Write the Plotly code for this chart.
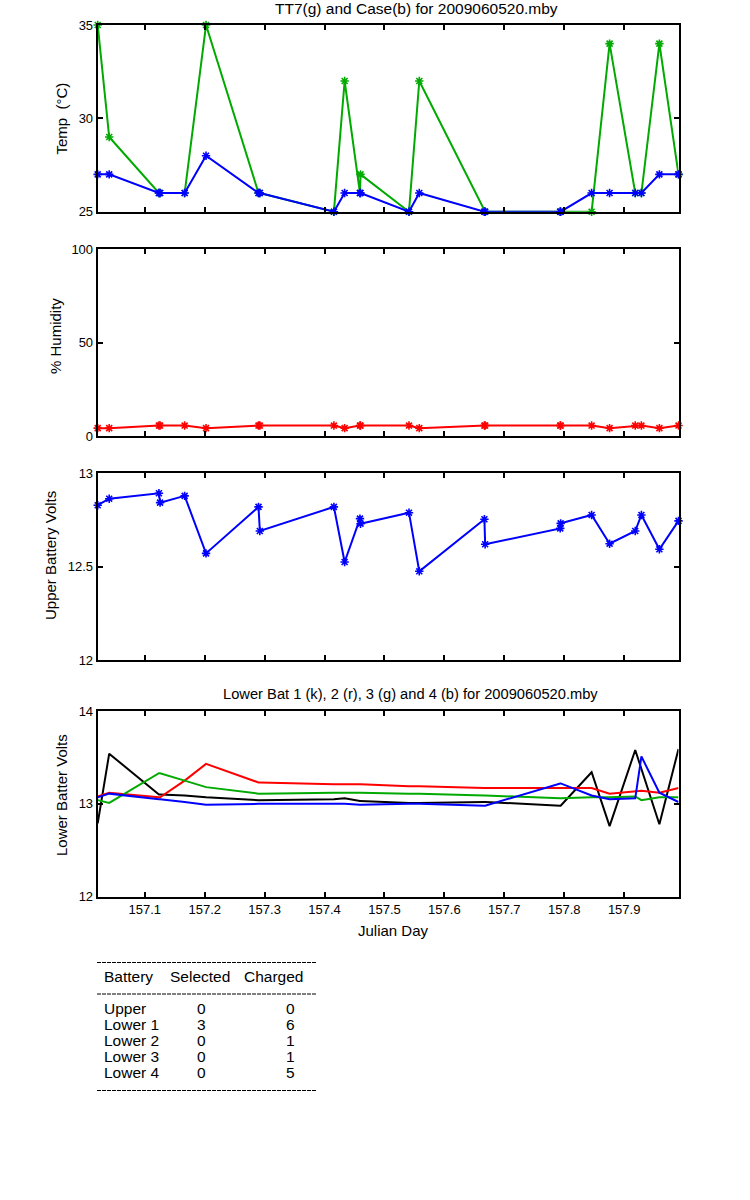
import plotly.graph_objects as go

# ---------------- data ----------------
julian_day = [157.0214, 157.0406, 157.1236, 157.1255, 157.1665, 157.2022, 157.2898, 157.2920,
              157.4156, 157.4335, 157.4591, 157.4600, 157.5409, 157.5581, 157.6668, 157.6680,
              157.7933, 157.7940, 157.8457, 157.8757, 157.9185, 157.9288, 157.9588, 157.9907]

tt7_temp = [35, 29, 26, 26, 26, 35, 26, 26, 25, 32, 26, 27, 25, 32, 25, 25,
            25, 25, 25, 34, 26, 26, 34, 27]
case_temp = [27, 27, 26, 26, 26, 28, 26, 26, 25, 26, 26, 26, 25, 26, 25, 25,
             25, 25, 26, 26, 26, 26, 27, 27]

humidity = [4.2, 4.2, 5.6, 5.6, 5.6, 4.2, 5.6, 5.6, 5.6, 4.2, 5.6, 5.6, 5.6, 4.2, 5.6, 5.6,
            5.6, 5.6, 5.6, 4.2, 5.6, 5.6, 4.2, 5.6]

upper_bat = [12.829, 12.864, 12.893, 12.843, 12.879, 12.571, 12.820, 12.691,
             12.820, 12.525, 12.757, 12.730, 12.789, 12.475, 12.754, 12.620,
             12.705, 12.732, 12.777, 12.623, 12.691, 12.777, 12.593, 12.745]

lower_bat1 = [12.79, 13.54, 13.10, 13.10, 13.09, 13.07, 13.04, 13.04, 13.05, 13.06, 13.03, 13.03,
              13.01, 13.01, 13.02, 13.02, 12.98, 12.98, 13.34, 12.76, 13.58, 13.37, 12.78, 13.59]
lower_bat2 = [13.08, 13.12, 13.07, 13.07, 13.25, 13.43, 13.23, 13.23, 13.21, 13.21, 13.21, 13.21,
              13.19, 13.19, 13.17, 13.17, 13.17, 13.17, 13.17, 13.11, 13.14, 13.14, 13.12, 13.17]
lower_bat3 = [13.04, 13.01, 13.33, 13.33, 13.25, 13.18, 13.11, 13.11, 13.12, 13.12, 13.12, 13.12,
              13.11, 13.11, 13.09, 13.09, 13.06, 13.06, 13.07, 13.07, 13.08, 13.04, 13.07, 13.07]
lower_bat4 = [13.07, 13.11, 13.05, 13.05, 13.02, 12.99, 13.00, 13.00, 13.00, 13.00, 12.99, 12.99,
              13.00, 13.00, 12.98, 12.98, 13.22, 13.22, 13.09, 13.05, 13.06, 13.51, 13.12, 13.02]

x_ticks = [157.1, 157.2, 157.3, 157.4, 157.5, 157.6, 157.7, 157.8, 157.9]
x_range = [157.0214, 157.9907]

table_batteries = ["Upper", "Lower 1", "Lower 2", "Lower 3", "Lower 4"]
table_selected = [0, 3, 0, 0, 0]
table_charged = [0, 6, 1, 1, 5]

title_top = "TT7(g) and Case(b) for 2009060520.mby"
title_lower = "Lower Bat 1 (k), 2 (r), 3 (g) and 4 (b) for 2009060520.mby"

# ---------------- layout helpers ----------------
W, H = 750, 1200
FONT = "Liberation Sans, Arial, sans-serif"
GREEN = "rgb(0,170,0)"
BLUE = "rgb(0,0,255)"
RED = "rgb(255,0,0)"
BLACK = "rgb(0,0,0)"


def px(x):
    return x / W


def py(y):
    return 1 - y / H


x_dom = [px(97.7), px(678.5)]
panels = {
    1: (25.0, 211.7),
    2: (249.3, 436.0),
    3: (473.3, 660.0),
    4: (711.0, 896.7),
}

fig = go.Figure()


def mk(col):
    return dict(symbol="asterisk-open", size=7, color=col, line=dict(width=1.6, color=col))


# panel 1 - temperatures
fig.add_trace(go.Scatter(x=julian_day, y=tt7_temp, mode="lines+markers",
                         line=dict(color=GREEN, width=2), marker=mk(GREEN),
                         xaxis="x", yaxis="y", cliponaxis=False, showlegend=False))
fig.add_trace(go.Scatter(x=julian_day, y=case_temp, mode="lines+markers",
                         line=dict(color=BLUE, width=2), marker=mk(BLUE),
                         xaxis="x", yaxis="y", cliponaxis=False, showlegend=False))
# panel 2 - humidity
fig.add_trace(go.Scatter(x=julian_day, y=humidity, mode="lines+markers",
                         line=dict(color=RED, width=2), marker=mk(RED),
                         xaxis="x2", yaxis="y2", cliponaxis=False, showlegend=False))
# panel 3 - upper battery
fig.add_trace(go.Scatter(x=julian_day, y=upper_bat, mode="lines+markers",
                         line=dict(color=BLUE, width=2), marker=mk(BLUE),
                         xaxis="x3", yaxis="y3", cliponaxis=False, showlegend=False))
# panel 4 - lower batteries
for vals, col in [(lower_bat1, BLACK), (lower_bat2, RED), (lower_bat3, GREEN), (lower_bat4, BLUE)]:
    fig.add_trace(go.Scatter(x=julian_day, y=vals, mode="lines",
                             line=dict(color=col, width=2),
                             xaxis="x4", yaxis="y4", cliponaxis=False, showlegend=False))

axis_common = dict(showline=True, linecolor=BLACK, linewidth=2, mirror="ticks",
                   ticks="inside", ticklen=5, tickwidth=2, tickcolor=BLACK,
                   showgrid=False, zeroline=False, automargin=False,
                   tickfont=dict(family=FONT, size=13, color=BLACK))

y_specs = {
    1: dict(range=[25, 35], tickvals=[25, 30, 35]),
    2: dict(range=[0, 100], tickvals=[0, 50, 100]),
    3: dict(range=[12, 13], tickvals=[12, 12.5, 13], ticktext=["12", "12.5", "13"]),
    4: dict(range=[12, 14], tickvals=[12, 13, 14]),
}

layout = dict(width=W, height=H, autosize=False,
              margin=dict(l=0, r=0, t=0, b=0, pad=0, autoexpand=False),
              paper_bgcolor="white", plot_bgcolor="white",
              font=dict(family=FONT, color=BLACK))

for i in range(1, 5):
    top, bot = panels[i]
    xa = "xaxis" if i == 1 else f"xaxis{i}"
    ya = "yaxis" if i == 1 else f"yaxis{i}"
    layout[xa] = dict(domain=x_dom, range=x_range, tickvals=x_ticks,
                      showticklabels=(i == 4),
                      ticktext=[f"{v:.1f}" for v in x_ticks],
                      anchor="y" if i == 1 else f"y{i}", **axis_common)
    layout[ya] = dict(domain=[py(bot), py(top)], anchor="x" if i == 1 else f"x{i}",
                      **y_specs[i], **axis_common)

fig.update_layout(**layout)

annotations = []


def txt(text, x, y, size=14, xanchor="center", angle=0):
    annotations.append(dict(text=text, x=px(x), y=py(y), xref="paper", yref="paper",
                            showarrow=False, xanchor=xanchor, yanchor="middle",
                            textangle=angle,
                            font=dict(family=FONT, size=size, color=BLACK)))


txt(title_top, 416, 9, size=15.5)
txt(title_lower, 410.6, 694, size=14.7)
txt("Temp  (°C)", 61.5, 119, size=15, angle=-90)
txt("% Humidity", 55, 336, size=15, angle=-90)
txt("Upper Battery Volts", 50, 556, size=15, angle=-90)
txt("Lower Batter Volts", 61, 795, size=15, angle=-90)
txt("Julian Day", 393.6, 930, size=15)

# table
txt("Battery", 101.7, 976, size=15.5, xanchor="left")
txt("Selected", 168.3, 976, size=15.5, xanchor="left")
txt("Charged", 241.7, 976, size=15.5, xanchor="left")
row_y = [1008, 1024, 1040, 1056, 1072]
for name, sel, chg, yy in zip(table_batteries, table_selected, table_charged, row_y):
    txt(name, 101.7, yy, size=15.5, xanchor="left")
    txt(str(sel), 201.7, yy, size=15.5)
    txt(str(chg), 290, yy, size=15.5)

fig.update_layout(annotations=annotations)

shapes = []
for yy in [962.5, 994, 1090.5]:
    shapes.append(dict(type="line", xref="paper", yref="paper",
                       x0=px(97), x1=px(317), y0=py(yy), y1=py(yy),
                       line=dict(color=BLACK, width=1, dash="4px,1px")))
fig.update_layout(shapes=shapes)

fig.write_html("out.html", config={"displayModeBar": False},
               post_script="document.body.style.margin='0px';")
